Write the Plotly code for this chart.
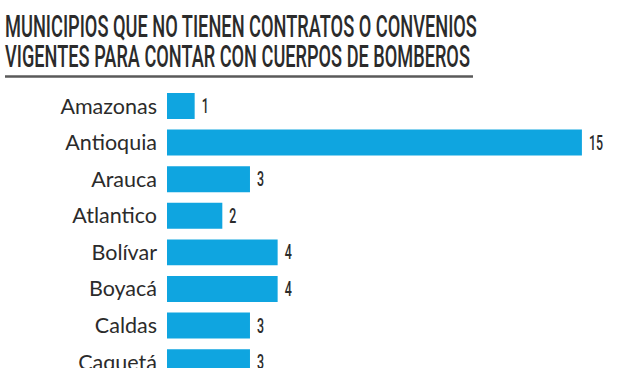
import plotly.graph_objects as go

departamentos = ["Amazonas", "Antioquia", "Arauca", "Atlantico", "Bolívar", "Boyacá", "Caldas", "Caquetá"]
municipios = [1, 15, 3, 2, 4, 4, 3, 3]
titulo_1 = "MUNICIPIOS QUE NO TIENEN CONTRATOS O CONVENIOS"
titulo_2 = "VIGENTES PARA CONTAR CON CUERPOS DE BOMBEROS"

BLUE = "#0fa5e0"
TXT = "#2b2b2b"
COND = "Roboto, Liberation Sans, Arial, sans-serif"

L, T = 167, 85
PW, PH = 640 - L, 368 - T


def px(x):
    return (x - L) / PW


def py(y):
    return 1 + (T - y) / PH


fig = go.Figure(go.Bar(
    x=municipios, y=departamentos, orientation="h",
    marker=dict(color=BLUE, line=dict(width=0)),
    width=0.71,
    text=[str(v) for v in municipios], textposition="outside",
    textfont=dict(family=COND, size=20, color=TXT, weight=500),
    cliponaxis=False,
    hoverinfo="skip",
))

fig.update_layout(
    width=640, height=368,
    margin=dict(l=L, r=0, t=T, b=0, autoexpand=False),
    paper_bgcolor="white", plot_bgcolor="white",
    showlegend=False,
    xaxis=dict(range=[0, 17.1], visible=False, fixedrange=True, automargin=False),
    yaxis=dict(range=[7.16, -0.574], showgrid=False, zeroline=False, showline=False,
               ticks="", ticklabelstandoff=9, fixedrange=True, automargin=False,
               tickfont=dict(family="Lato, Noto Sans, sans-serif", size=21.5, color=TXT)),
    annotations=[
        dict(text=titulo_1, xref="paper", yref="paper", x=px(3), y=py(4.7),
             xanchor="left", yanchor="top", showarrow=False,
             font=dict(family=COND, size=32, color=TXT, weight=500)),
        dict(text=titulo_2, xref="paper", yref="paper", x=px(3), y=py(35),
             xanchor="left", yanchor="top", showarrow=False,
             font=dict(family=COND, size=32, color=TXT, weight=500)),
    ],
    shapes=[dict(type="line", xref="paper", yref="paper",
                 x0=px(5), x1=px(473), y0=py(76.5), y1=py(76.5),
                 line=dict(color="#5a5a5a", width=2.5))],
)

post = """
var gd = document.getElementById('{plot_id}');
document.body.style.margin = '0';
function sq(t, scale, dx) {
  var cur = t.getAttribute('transform') || '';
  if (t.__applied !== undefined && cur === t.__applied) return;
  var b = t.getBBox();
  var s = typeof scale === 'function' ? scale(b) : scale;
  var nt = cur + ' translate(' + (b.x + dx) + ',0) scale(' + s + ',1) translate(' + (-b.x) + ',0)';
  t.setAttribute('transform', nt);
  t.__applied = nt;
}
var targets = {0: 472, 1: 465};
function squashAll() {
  gd.querySelectorAll('g.annotation').forEach(function (g) {
    var i = g.getAttribute('data-index');
    var t = g.querySelector('text.annotation-text');
    if (t && targets[i]) sq(t, function (b) { return targets[i] / b.width; }, 0);
  });
  gd.querySelectorAll('text.bartext').forEach(function (t) { sq(t, 0.62, 4); });
}
try { squashAll(); } catch (e) {}
if (gd.on) gd.on('plotly_afterplot', function () { try { squashAll(); } catch (e) {} });
setTimeout(function () { try { squashAll(); } catch (e) {} }, 0);
"""

fig.write_html("out.html", post_script=post, config={"displayModeBar": False})
